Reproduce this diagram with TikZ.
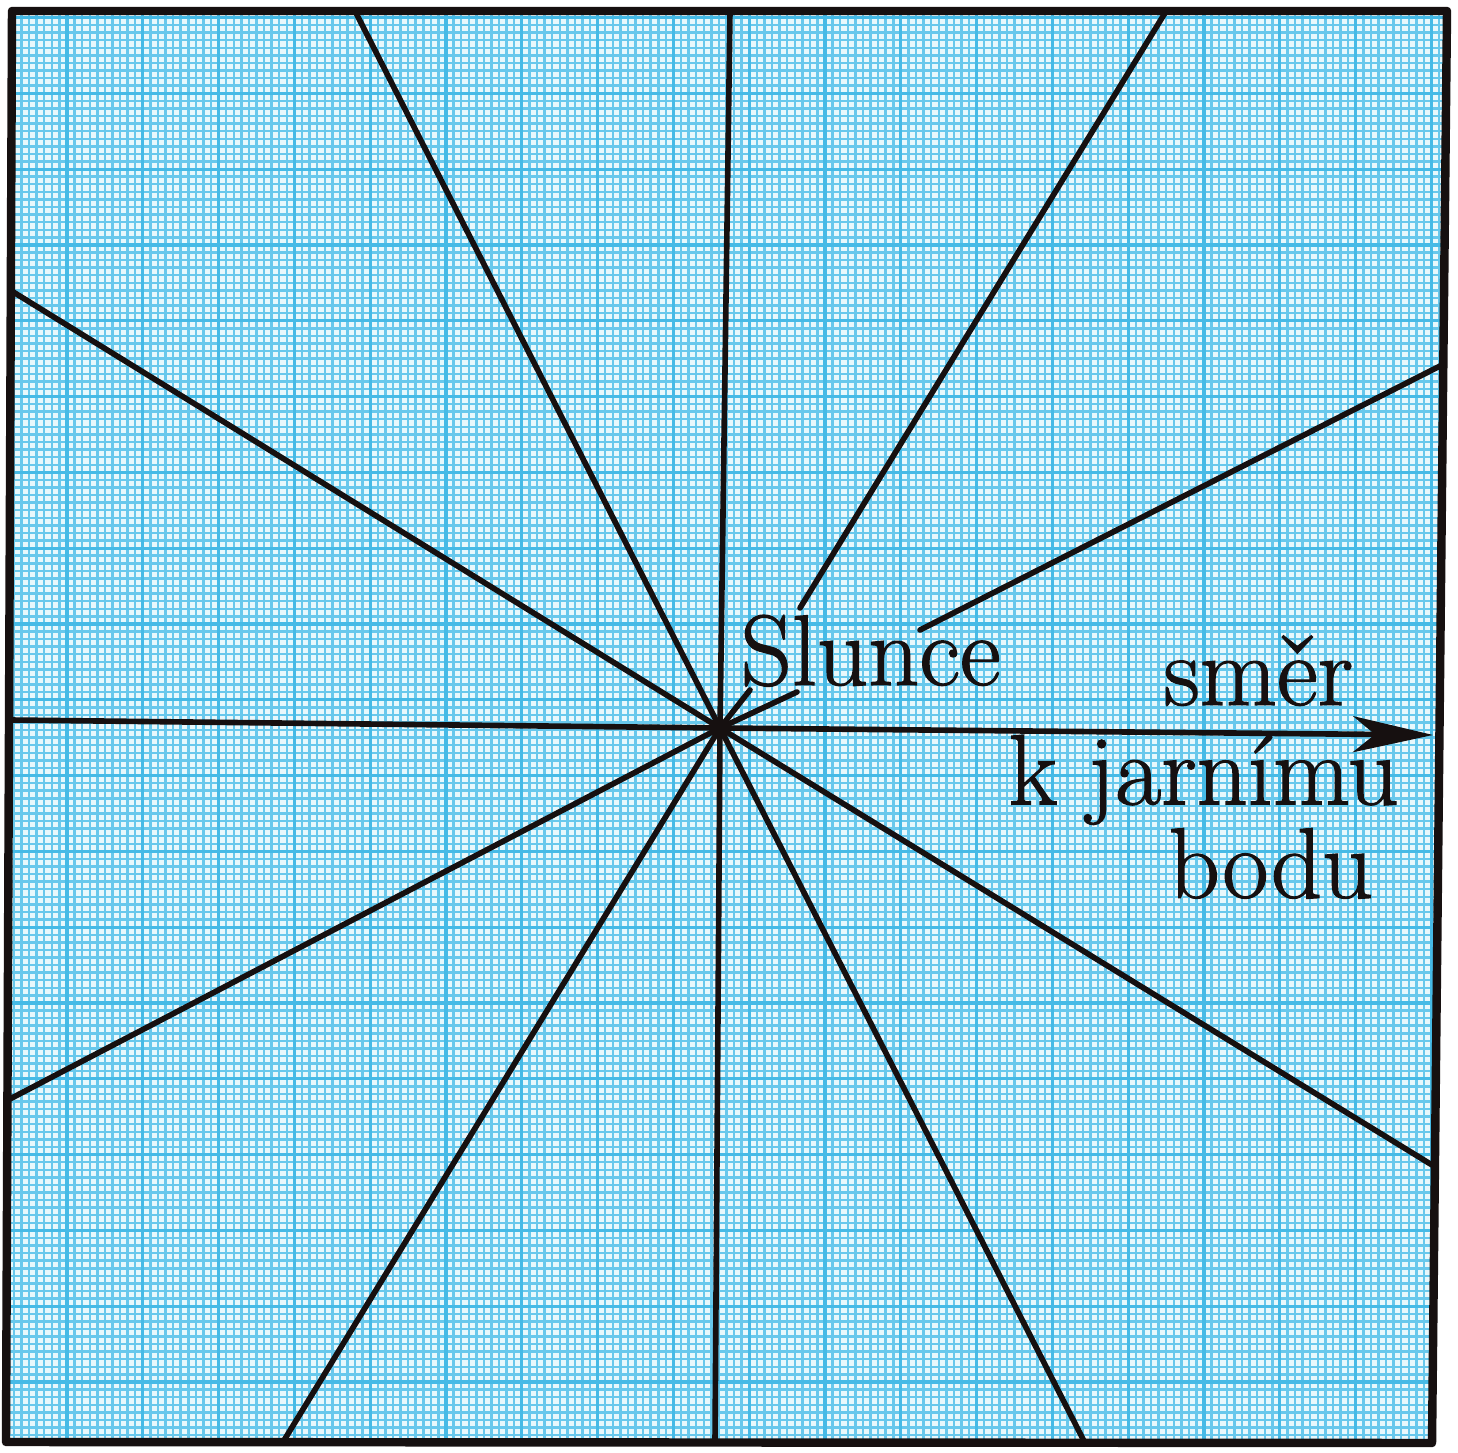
\documentclass[tikz,border=0pt]{standalone}
\usepackage{fontspec}
\newfontfamily\labfont{Latin Modern Roman}[FakeBold=1.2]
\usetikzlibrary{arrows.meta}
\definecolor{paper}{RGB}{232,248,252}
\definecolor{gridblue}{RGB}{104,200,236}
\definecolor{gridbluedark}{RGB}{70,186,230}
\definecolor{ink}{RGB}{22,16,16}
\begin{document}
\begin{tikzpicture}[
    ray/.style={line width=1.6pt, draw=ink, line cap=round},
    frame/.style={line width=2.4pt, draw=ink, line join=round},
    minorgrid/.style={line width=0.7pt, draw=gridblue},
    majorgrid/.style={line width=0.95pt, draw=gridbluedark},
    lab/.style={inner sep=0pt, text=ink,
                font=\labfont\fontsize{28.5}{23.3}\selectfont}
]
\useasboundingbox (0,0) rectangle (14.58,14.52);

% corners of the sheet
\coordinate (tl) at (0.12,14.41);
\coordinate (tr) at (14.47,14.41);
\coordinate (br) at (14.32,0.09);
\coordinate (bl) at (0.06,0.10);

% millimetre paper
\begin{scope}
  \clip (tl) -- (tr) -- (br) -- (bl) -- cycle;
  \fill[paper] (0,0) rectangle (14.58,14.52);
  \draw[minorgrid, step=0.0758, xshift=0.67cm, yshift=0.70cm] (-1,-1) grid (14.5,14.5);
  \draw[majorgrid, step=0.758, xshift=0.67cm, yshift=0.70cm] (-1,-1) grid (14.5,14.5);
\end{scope}

% the Sun and the ends of the rays
\coordinate (sun) at (7.20,7.24);
\coordinate (e90)  at (7.30,14.41);
\coordinate (e120) at (3.55,14.41);
\coordinate (e150) at (0.10,11.62);
\coordinate (e180) at (0.09,7.32);
\coordinate (e210) at (0.08,3.52);
\coordinate (e240) at (2.83,0.10);
\coordinate (e270) at (7.15,0.10);
\coordinate (e300) at (10.85,0.09);
\coordinate (e330) at (14.32,2.87);
\coordinate (e0)   at (14.33,7.17);

% rays broken by the label
\coordinate (n30) at (7.97,7.60);
\coordinate (f30) at (9.20,8.22);
\coordinate (e30) at (14.42,10.87);
\coordinate (n60) at (7.50,7.62);
\coordinate (f60) at (8.00,8.44);
\coordinate (e60) at (11.65,14.39);

\foreach \e in {e90,e120,e150,e210,e240,e270,e300,e330}
  \draw[ray] (sun) -- (\e);

\draw[ray] (sun) -- (n30);
\draw[ray] (f30) -- (e30);
\draw[ray] (sun) -- (n60);
\draw[ray] (f60) -- (e60);

\draw[ray, line cap=butt] (e180) -- (sun);
\draw[ray, line cap=butt, -{Stealth[length=8mm, width=3.6mm, inset=2.2mm]}] (sun) -- (e0);

\draw[frame] (tl) -- (tr) -- (br) -- (bl) -- cycle;

\node[lab, anchor=base west] (slunce) at (7.40,7.67) {Slunce};
\node[lab, anchor=base west] (smer)   at (11.63,7.47) {směr};
\node[lab, anchor=north west, align=left] (jarni) at (10.08,7.18)
  {k jarnímu\\\hspace*{1.6cm}bodu};

\end{tikzpicture}
\end{document}
